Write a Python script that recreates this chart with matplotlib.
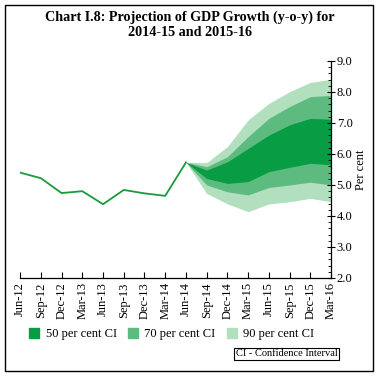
import numpy as np
import matplotlib
matplotlib.use("Agg")
import matplotlib.pyplot as plt
from matplotlib.patches import Patch, Rectangle
from matplotlib.ticker import MultipleLocator

plt.rcParams['font.family'] = ['Liberation Serif', 'DejaVu Serif']

# -------------------------------------------------
# Data
# -------------------------------------------------
quarters = ["Jun-12", "Sep-12", "Dec-12", "Mar-13", "Jun-13", "Sep-13",
            "Dec-13", "Mar-14", "Jun-14", "Sep-14", "Dec-14", "Mar-15",
            "Jun-15", "Sep-15", "Dec-15", "Mar-16"]

# actual growth, Jun-12 .. Jun-14
actual = [5.40, 5.22, 4.74, 4.80, 4.38, 4.84, 4.73, 4.65, 5.73]

# projection bands, Jun-14 .. Mar-16
ci90_hi = [5.73, 5.72, 6.24, 7.10, 7.63, 8.01, 8.31, 8.41]
ci70_hi = [5.73, 5.59, 5.91, 6.56, 7.15, 7.53, 7.85, 7.89]
ci50_hi = [5.73, 5.48, 5.75, 6.18, 6.61, 6.94, 7.15, 7.12]
ci50_lo = [5.73, 5.21, 5.05, 5.11, 5.43, 5.57, 5.70, 5.65]
ci70_lo = [5.73, 5.00, 4.78, 4.68, 4.92, 5.00, 5.09, 5.00]
ci90_lo = [5.73, 4.73, 4.39, 4.14, 4.39, 4.46, 4.57, 4.46]

c50 = "#089d45"
c70 = "#5dbb80"
c90 = "#b2dfbe"
line_col = "#1a9a3c"

# -------------------------------------------------
# Plot
# -------------------------------------------------
fig = plt.figure(figsize=(3.79, 3.79), dpi=100)
ax = fig.add_axes([0.053, 0.2665, 0.8206, 0.5726])

x_act = np.arange(len(actual))
x_fan = np.arange(len(actual) - 1, len(quarters))

ax.fill_between(x_fan, ci90_lo, ci90_hi, color=c90, lw=0)
ax.fill_between(x_fan, ci70_lo, ci70_hi, color=c70, lw=0)
ax.fill_between(x_fan, ci50_lo, ci50_hi, color=c50, lw=0)
ax.plot(x_act, actual, color=line_col, lw=1.3)

ax.set_xlim(0, len(quarters) - 1)
ax.set_ylim(2.0, 9.0)

ax.set_xticks(np.arange(len(quarters)))
ax.set_xticklabels(quarters, rotation=90, fontsize=9)
ax.tick_params(axis='x', direction='in', length=4, width=0.8, pad=3)

ax.yaxis.tick_right()
ax.yaxis.set_label_position("right")
ax.yaxis.set_major_locator(MultipleLocator(1.0))
ax.yaxis.set_minor_locator(MultipleLocator(0.2))
ax.yaxis.set_major_formatter(matplotlib.ticker.FormatStrFormatter("%.1f"))
ax.tick_params(axis='y', which='major', direction='inout', length=6,
               width=0.8, labelsize=9, pad=1)
ax.tick_params(axis='y', which='minor', direction='in', length=2, width=0.6)
ax.set_ylabel("Per cent", fontsize=9, labelpad=2)

for s in ["left", "top"]:
    ax.spines[s].set_visible(False)
for s in ["right", "bottom"]:
    ax.spines[s].set_linewidth(0.9)

# -------------------------------------------------
# Title, legend, note, border
# -------------------------------------------------
fig.text(0.5, 0.935, "Chart I.8: Projection of GDP Growth (y-o-y) for\n2014-15 and 2015-16",
         ha="center", va="center", fontsize=10.2, fontweight="bold", linespacing=1.15)

handles = [Patch(color=c50, label="50 per cent CI"),
           Patch(color=c70, label="70 per cent CI"),
           Patch(color=c90, label="90 per cent CI")]
fig.legend(handles=handles, loc="center", bbox_to_anchor=(0.453, 0.118), ncol=3,
           frameon=False, fontsize=9, handlelength=0.8, handleheight=0.8,
           handletextpad=0.5, columnspacing=0.9)

fig.text(0.756, 0.067, "CI - Confidence Interval", ha="center", va="center",
         fontsize=7.5,
         bbox=dict(boxstyle="square,pad=0.15", fc="white", ec="black", lw=0.8))

fig.add_artist(Rectangle((0.014, 0.021), 0.97, 0.965, transform=fig.transFigure,
                         fill=False, ec="black", lw=1.0))

fig.savefig("out.png", dpi=100)
